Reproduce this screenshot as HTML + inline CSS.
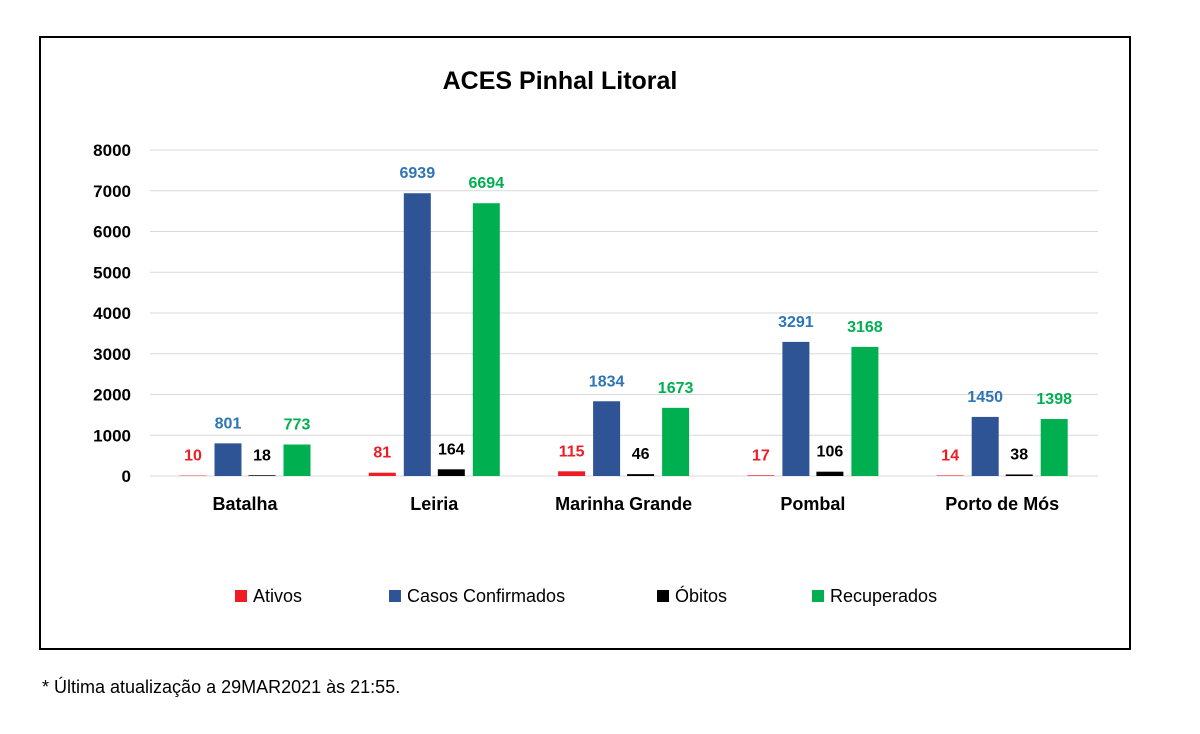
<!DOCTYPE html>
<html><head><meta charset="utf-8"><style>
body{margin:0;background:#fff;width:1200px;height:729px;overflow:hidden;font-family:"Liberation Sans",sans-serif}
</style></head><body>
<svg width="1200" height="729" id="svg">
<rect x="40" y="37" width="1090" height="612" fill="#fff" stroke="#000" stroke-width="2"/>
<text x="560" y="89" text-anchor="middle" font-size="25" font-weight="bold" fill="#000">ACES Pinhal Litoral</text>
<g id="grid"></g><g id="bars"></g>
<g font-size="18" fill="#000">
<rect x="235" y="590" width="12" height="12" fill="#ee1c25"/><text x="253" y="602">Ativos</text>
<rect x="389" y="590" width="12" height="12" fill="#2e5496"/><text x="407" y="602">Casos Confirmados</text>
<rect x="657" y="590" width="12" height="12" fill="#000"/><text x="675" y="602">Óbitos</text>
<rect x="812" y="590" width="12" height="12" fill="#00b050"/><text x="830" y="602">Recuperados</text>
</g>
<text x="42" y="693" font-size="18" fill="#000">* Última atualização a 29MAR2021 às 21:55.</text>
</svg>
<script>
const categories=["Batalha","Leiria","Marinha Grande","Pombal","Porto de Mós"];
const ativos=[10,81,115,17,14];
const casos=[801,6939,1834,3291,1450];
const obitos=[18,164,46,106,38];
const recuperados=[773,6694,1673,3168,1398];
const yTicks=[0,1000,2000,3000,4000,5000,6000,7000,8000];
const NS="http://www.w3.org/2000/svg";
const y0=476,yTop=150,yMax=8000;
const y=v=>y0-(v/yMax)*(y0-yTop);
const cx=i=>245+i*189.3;
function el(t,a,p){const e=document.createElementNS(NS,t);for(const k in a)e.setAttribute(k,a[k]);p.appendChild(e);return e;}
const grid=document.getElementById('grid'),bars=document.getElementById('bars');
yTicks.forEach(t=>{
 const l=el('line',{x1:150,x2:1098,y1:y(t),y2:y(t),stroke:'#d9d9d9','stroke-width':1},grid);
 
 
 const tx=el('text',{x:131,y:y(t)+6,'text-anchor':'end','font-size':17,'font-weight':'bold',fill:'#000'},grid);
 tx.textContent=t;
 
 
});
const series=[[ativos,'#ee1c25','#ee1c25','ativos'],[casos,'#2e5496','#2e75b6','casos'],[obitos,'#000','#000','obitos'],[recuperados,'#00b050','#00b050','recuperados']];
const offs=[-52,-17,17,52];
categories.forEach((c,i)=>{
 series.forEach((s,j)=>{
  const v=s[0][i],x=cx(i)+offs[j];
  const r=el('rect',{x:x-13.5,y:y(v),width:27,height:y0-y(v),fill:s[1]},bars);
  
  
  const t=el('text',{x:x,y:y(v)-15,'text-anchor':'middle','font-size':16,'font-weight':'bold',fill:s[2]},bars);
  t.textContent=v;
  
  
 });
 const t=el('text',{x:cx(i),y:510,'text-anchor':'middle','font-size':18,'font-weight':'bold',fill:'#000'},bars);
 t.textContent=c;
 
 
});
</script>
</body></html>
